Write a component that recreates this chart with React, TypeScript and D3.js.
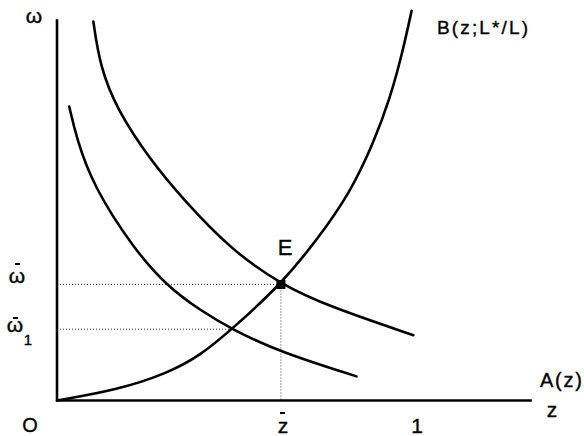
import React from "react";
import * as d3 from "d3";

// Curve samples in (z, ω) units; ω̄ = 1 at the equilibrium E.
const curveB: [number, number][] = [
  [0, 0], [0.166, 0.09], [0.305, 0.232], [0.397, 0.385], [0.485, 0.612],
  [0.622, 1.0], [0.726, 1.4], [0.814, 1.79], [0.879, 2.22], [0.925, 2.6],
  [0.962, 3.03], [0.985, 3.36],
];
const curveUpper: [number, number][] = [
  [0.101, 3.267], [0.119, 2.886], [0.166, 2.511], [0.258, 2.078], [0.351, 1.732],
  [0.481, 1.307], [0.622, 1.0], [0.758, 0.808], [0.99, 0.563],
];
const curveLower: [number, number][] = [
  [0.034, 2.534], [0.055, 2.251], [0.101, 1.847], [0.212, 1.313], [0.305, 0.987],
  [0.397, 0.779], [0.485, 0.615], [0.619, 0.418], [0.832, 0.208],
];

const zBar = 0.622;
const omegaBar = 1.0;
const z1 = 0.485;
const omega1 = 0.615;
const zAxisMax = 1.319;
const omegaAxisMax = 3.286;

const W = 584;
const H = 436;
const FONT = "'Liberation Sans', Arial, Helvetica, sans-serif";

export default function App() {
  const x = d3.scaleLinear().domain([0, 1]).range([57, 417]);
  const y = d3.scaleLinear().domain([0, 1]).range([400.5, 284.5]);

  const line = d3
    .line<[number, number]>()
    .x((d) => x(d[0]))
    .y((d) => y(d[1]))
    .curve(d3.curveBasis);

  const curveStyle = { fill: "none", stroke: "#000", strokeWidth: 2.6, strokeLinecap: "round" as const };
  const dotStyle = { stroke: "#333", strokeWidth: 1, strokeDasharray: "1 2" };
  const textStyle = { fill: "#000", stroke: "#000", strokeWidth: 0.35 };

  return (
    <svg
      width={W}
      height={H}
      viewBox={`0 0 ${W} ${H}`}
      style={{ position: "absolute", left: 0, top: 0, background: "#fff", fontFamily: FONT }}
    >
      {/* guide lines to the equilibrium and the lower intersection */}
      <line x1={x(0)} x2={x(zBar)} y1={y(omegaBar)} y2={y(omegaBar)} {...dotStyle} />
      <line x1={x(zBar)} x2={x(zBar)} y1={y(omegaBar)} y2={y(0)} {...dotStyle} />
      <line x1={x(0)} x2={x(z1)} y1={y(omega1)} y2={y(omega1)} {...dotStyle} />

      {/* axes */}
      <line x1={x(0)} x2={x(0)} y1={y(omegaAxisMax)} y2={y(0) + 1} stroke="#000" strokeWidth={2.6} />
      <line x1={x(0)} x2={x(zAxisMax)} y1={y(0)} y2={y(0)} stroke="#000" strokeWidth={2.6} />

      {/* curves */}
      <path d={line(curveB) ?? ""} {...curveStyle} />
      <path d={line(curveUpper) ?? ""} {...curveStyle} />
      <path d={line(curveLower) ?? ""} {...curveStyle} />

      {/* equilibrium point E */}
      <rect x={x(zBar) - 4.5} y={y(omegaBar) - 4.5} width={9} height={9} fill="#000" />

      {/* labels */}
      <g {...textStyle}>
        <text x={34} y={23} fontSize={21} textAnchor="middle">ω</text>

        <text x={17} y={283} fontSize={21} textAnchor="middle">ω</text>
        <text x={15} y={332} fontSize={21} textAnchor="middle">ω</text>
        <text x={28} y={345} fontSize={15} textAnchor="middle">1</text>

        <text x={30} y={432} fontSize={20} textAnchor="middle">O</text>
        <text x={283} y={433} fontSize={21} textAnchor="middle">z</text>
        <text x={417} y={433} fontSize={21} textAnchor="middle">1</text>
        <text x={552} y={417} fontSize={21} textAnchor="middle">z</text>

        <text x={540} y={387} fontSize={20} textLength={42} lengthAdjust="spacing">A(z)</text>
        <text x={437} y={34} fontSize={19} textLength={91} lengthAdjust="spacing">B(z;L*/L)</text>
        <text x={285} y={255} fontSize={22} textAnchor="middle">E</text>
      </g>
      {/* bars over ω̄, ω̄₁ and z̄ */}
      <line x1={15} x2={20} y1={264} y2={264} stroke="#000" strokeWidth={2} />
      <line x1={13} x2={18} y1={318} y2={318} stroke="#000" strokeWidth={2} />
      <line x1={280} x2={285} y1={413} y2={413} stroke="#000" strokeWidth={2} />
    </svg>
  );
}
